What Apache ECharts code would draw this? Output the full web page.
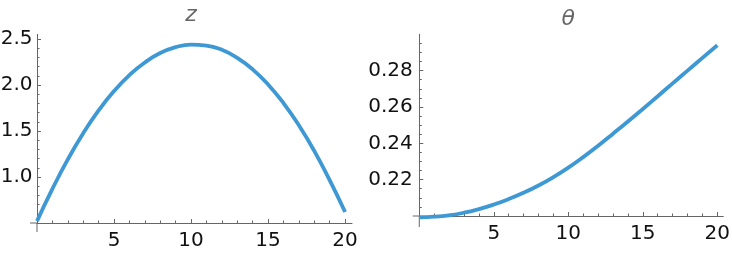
<!DOCTYPE html>
<html>
<head>
<meta charset="utf-8">
<script src="https://cdn.jsdelivr.net/npm/echarts@6/dist/echarts.min.js"></script>
<style>
html,body{margin:0;padding:0;background:#fff;}
#chart{width:732px;height:254px;}
</style>
</head>
<body>
<div id="chart"></div>
<script>
// ---- data ----
const tValues = [0,1,2,3,4,5,6,7,8,9,10,11,12,13,14,15,16,17,18,19,20];
const zValues = [0.52,0.871,1.191,1.475,1.723,1.934,2.108,2.245,2.347,2.411,2.439,2.429,2.382,2.295,2.170,2.006,1.804,1.563,1.284,0.965,0.62];
const thetaValues = [0.1993,0.1996,0.2004,0.2018,0.2038,0.2063,0.2093,0.2128,0.2168,0.2214,0.2266,0.2324,0.2387,0.2453,0.2520,0.2589,0.2659,0.2730,0.2800,0.2870,0.2940];

// ---- ticks ----
const xMajorTicks = [0,5,10,15,20];
const xTickLabels = [5,10,15,20];
const xMinorTicks = [1,2,3,4,6,7,8,9,11,12,13,14,16,17,18,19];
const zTickLabels = [1.0,1.5,2.0,2.5];
const zMinorTicks = [0.6,0.7,0.8,0.9,1.1,1.2,1.3,1.4,1.6,1.7,1.8,1.9,2.1,2.2,2.3,2.4];
const thetaTickLabels = [0.22,0.24,0.26,0.28];
const thetaMinorTicks = [0.205,0.21,0.215,0.225,0.23,0.235,0.245,0.25,0.255,0.265,0.27,0.275,0.285,0.29,0.295];

const AXIS = '#666666';
const LINE = '#3d98d3';
const FONT = 'DejaVu Sans';
const LABEL_SIZE = 20;

function pairs(xs, ys){ return xs.map((x,i)=>[x, ys[i]]); }

function majorX(grid, min, max){
  return {
    gridIndex: grid, type: 'value', min: min, max: max, position: 'bottom',
    axisLine: {show: true, onZero: false, lineStyle: {color: AXIS, width: 1}},
    axisTick: {show: true, inside: true, length: 4, customValues: xMajorTicks, lineStyle: {color: AXIS}},
    axisLabel: {show: true, customValues: xTickLabels, margin: 8, color: '#111', fontFamily: FONT, fontSize: LABEL_SIZE},
    splitLine: {show: false}
  };
}
function minorX(grid, min, max){
  return {
    gridIndex: grid, type: 'value', min: min, max: max, position: 'bottom',
    axisLine: {show: false, onZero: false},
    axisTick: {show: true, inside: true, length: 2.5, customValues: xMinorTicks, lineStyle: {color: AXIS}},
    axisLabel: {show: false},
    splitLine: {show: false}
  };
}
function majorY(grid, min, max, labels, digits, margin){
  return {
    gridIndex: grid, type: 'value', min: min, max: max, position: 'left',
    axisLine: {show: true, onZero: false, lineStyle: {color: AXIS, width: 1}},
    axisTick: {show: true, inside: true, length: 4, customValues: labels, lineStyle: {color: AXIS}},
    axisLabel: {show: true, customValues: labels, margin: margin, color: '#111', fontFamily: FONT, fontSize: LABEL_SIZE,
      formatter: v => Number(v).toFixed(digits)},
    splitLine: {show: false}
  };
}
function minorY(grid, min, max, ticks){
  return {
    gridIndex: grid, type: 'value', min: min, max: max, position: 'left',
    axisLine: {show: false, onZero: false},
    axisTick: {show: true, inside: true, length: 2.5, customValues: ticks, lineStyle: {color: AXIS}},
    axisLabel: {show: false},
    splitLine: {show: false}
  };
}

const chart = echarts.init(document.getElementById('chart'), null, {renderer: 'canvas'});
const option = {
  animation: false,
  backgroundColor: '#ffffff',
  grid: [
    {left: 37, top: 34.4, width: 315, height: 188.6, containLabel: false, outerBoundsMode: 'none'},
    {left: 419.3, top: 34.3, width: 304, height: 181.7, containLabel: false, outerBoundsMode: 'none'}
  ],
  xAxis: [
    majorX(0, 0, 20.45), minorX(0, 0, 20.45),
    majorX(1, 0, 20.4), minorX(1, 0, 20.4)
  ],
  yAxis: [
    majorY(0, 0.5, 2.55, zTickLabels, 1, 4.5), minorY(0, 0.5, 2.55, zMinorTicks),
    majorY(1, 0.2, 0.3, thetaTickLabels, 2, 6.5), minorY(1, 0.2, 0.3, thetaMinorTicks)
  ],
  series: [
    {type: 'line', xAxisIndex: 0, yAxisIndex: 0, data: pairs(tValues, zValues), showSymbol: false, smooth: 0.5,
     clip: false, lineStyle: {color: LINE, width: 3.8}},
    {type: 'line', xAxisIndex: 2, yAxisIndex: 2, data: pairs(tValues, thetaValues), showSymbol: false, smooth: 0.5,
     clip: false, lineStyle: {color: LINE, width: 3.8}}
  ]
};
chart.setOption(option);

// axis-line extensions past the origin and titles, placed via the chart's own scales
const o0 = chart.convertToPixel({xAxisIndex: 0, yAxisIndex: 0}, [0, 0.5]);
const o1 = chart.convertToPixel({xAxisIndex: 2, yAxisIndex: 2}, [0, 0.2]);
const c0 = chart.convertToPixel({xAxisIndex: 0, yAxisIndex: 0}, [10, 0.5]);
const c1 = chart.convertToPixel({xAxisIndex: 2, yAxisIndex: 2}, [10, 0.2]);
const ax = {stroke: AXIS, lineWidth: 1};
chart.setOption({
  graphic: [
    {type: 'line', shape: {x1: o0[0], y1: o0[1], x2: o0[0], y2: o0[1] + 9}, style: ax},
    {type: 'line', shape: {x1: o0[0] - 7, y1: o0[1], x2: o0[0], y2: o0[1]}, style: ax},
    {type: 'line', shape: {x1: o1[0], y1: o1[1], x2: o1[0], y2: o1[1] + 11}, style: ax},
    {type: 'line', shape: {x1: o1[0] - 6.6, y1: o1[1], x2: o1[0], y2: o1[1]}, style: ax},
    {type: 'text', x: c0[0], y: 15.5, style: {text: 'z', fill: '#666', font: 'italic 22px "DejaVu Sans"', align: 'center', verticalAlign: 'middle', textAlign: 'center', textVerticalAlign: 'middle'}},
    {type: 'text', x: c1[0], y: 19.5, style: {text: 'θ', fill: '#666', font: 'italic 22px "DejaVu Sans"', align: 'center', verticalAlign: 'middle', textAlign: 'center', textVerticalAlign: 'middle'}}
  ]
});
</script>
</body>
</html>
